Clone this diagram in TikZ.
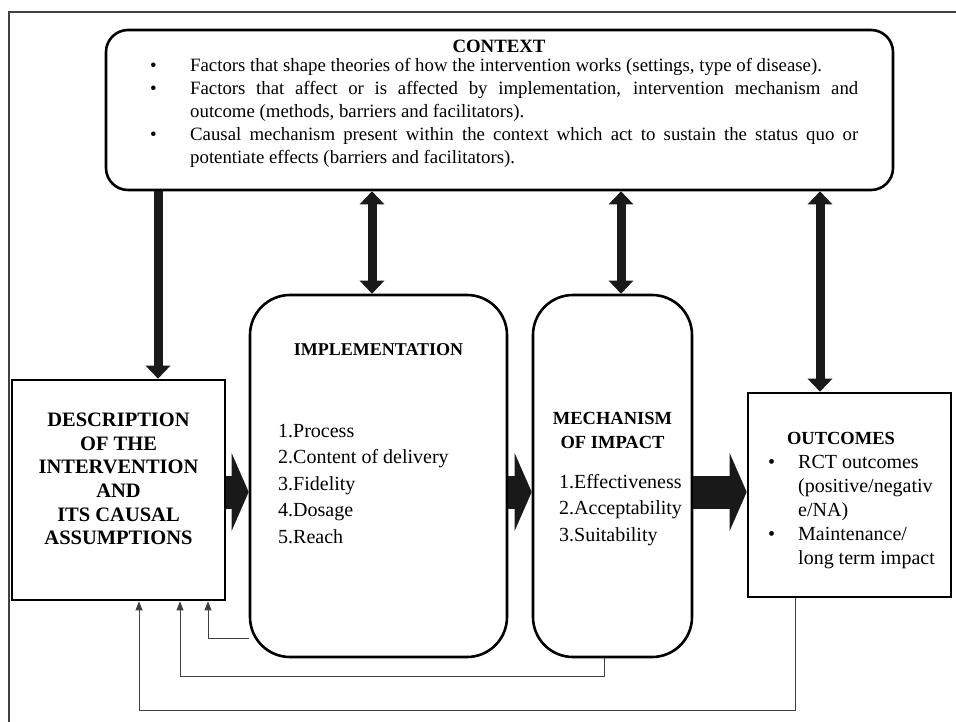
\documentclass[tikz,border=0pt]{standalone}
\usepackage{fontspec}
\setmainfont{Liberation Serif}
\usetikzlibrary{arrows.meta,calc,backgrounds}
\tikzset{
  sqbox/.style={draw, line width=2.6pt, fill=white, inner sep=0pt},
  rndbox/.style={sqbox, rounded corners=40pt},
  ctxbox/.style={sqbox, rounded corners=22pt},
  txt/.style={inner sep=0pt, font=\fontsize{18.5}{23.5}\selectfont},
  ctxtxt/.style={inner sep=0pt, font=\fontsize{18.8}{23}\selectfont},
  bigarrow/.style={line width=33pt, -{Triangle[width=77pt,length=17pt]}, draw=black!90},
  dblarrow/.style={line width=9pt, {Triangle[width=24pt,length=13pt]}-{Triangle[width=24pt,length=13pt]}, draw=black!90},
  downarrow/.style={line width=9pt, -{Triangle[width=24pt,length=13pt]}, draw=black!90},
  fback/.style={line width=0.8pt, draw=black!75, -{Triangle[width=7pt,length=9pt]}},
  frameline/.style={line width=1.1pt, draw=black!75}
}
\begin{document}
\begin{tikzpicture}[x=1pt,y=-1pt]
\useasboundingbox (0,0) rectangle (956,721);
% outer frame
\coordinate (fr1) at (9,730);
\coordinate (fr2) at (9,12);
\coordinate (fr3) at (960,12);
\draw[frameline] (fr1) -- (fr2) -- (fr3);

% boxes
\node[ctxbox, minimum width=787pt, minimum height=160pt] (ctx) at (499.5,110) {};
\node[sqbox, minimum width=213pt, minimum height=220pt] (desc) at (118.5,490) {};
\node[rndbox, minimum width=257pt, minimum height=362pt] (impl) at (378.5,476) {};
\node[rndbox, minimum width=159pt, minimum height=362pt] (mech) at (612.5,476) {};
\node[sqbox, minimum width=203pt, minimum height=204pt] (out) at (849.5,495) {};

% context text
\node[ctxtxt, font=\fontsize{18.8}{23}\selectfont\bfseries] (ctitle) at (499,46) {CONTEXT};
\node[ctxtxt, anchor=north west, text width=708pt, align=justify] (cbody) at (150,58) {%
\noindent\hangindent=40pt\hangafter=1\makebox[40pt][l]{\textbullet}Factors that shape theories of how the intervention works (settings, type of disease).\par
\noindent\hangindent=40pt\hangafter=1\makebox[40pt][l]{\textbullet}Factors that affect or is affected by implementation, intervention mechanism and\linebreak outcome (methods, barriers and facilitators).\par
\noindent\hangindent=40pt\hangafter=1\makebox[40pt][l]{\textbullet}Causal mechanism present within the context which act to sustain the status quo or\linebreak potentiate effects (barriers and facilitators).\par};

% description
\node[txt, font=\fontsize{20.5}{23.6}\selectfont\bfseries, align=center] (dtext) at (118.5,479) {DESCRIPTION\\OF THE\\INTERVENTION\\AND\\ITS CAUSAL\\ASSUMPTIONS};

% implementation
\node[txt, font=\fontsize{18}{23.6}\selectfont\bfseries] (ititle) at (378.5,350) {IMPLEMENTATION};
\node[txt, anchor=north west, align=left, font=\fontsize{20}{26.5}\selectfont] (ilist) at (278,424) {1.Process\\2.Content of delivery\\3.Fidelity\\4.Dosage\\5.Reach};

% mechanism
\node[txt, font=\fontsize{18.5}{24}\selectfont\bfseries, align=center] (mtitle) at (612.5,430) {MECHANISM\\OF IMPACT};
\node[txt, anchor=north west, align=left, font=\fontsize{20}{26.5}\selectfont] (mlist) at (559,474) {1.Effectiveness\\2.Acceptability\\3.Suitability};

% outcomes
\node[txt, font=\fontsize{18.5}{24}\selectfont\bfseries] (otitle) at (841,438) {OUTCOMES};
\node[txt, anchor=north west, align=left, font=\fontsize{20}{24}\selectfont] (olist) at (768,455) {\makebox[30pt][l]{\textbullet}RCT outcomes\\\hspace*{30pt}(positive/negativ\\\hspace*{30pt}e/NA)\\\makebox[30pt][l]{\textbullet}Maintenance/\\\hspace*{30pt}long term impact};

% thick forward arrows
\coordinate (ya) at (0,492);
\draw[bigarrow] (desc.east |- ya) -- (impl.west |- ya);
\draw[bigarrow] (impl.east |- ya) -- (mech.west |- ya);
\draw[bigarrow] (mech.east |- ya) -- (out.west |- ya);

% vertical arrows
\coordinate (a0) at (158,0);
\coordinate (a1) at (372,0);
\coordinate (a2) at (621,0);
\coordinate (a3) at (820,0);
\draw[downarrow] (ctx.south -| a0) -- (desc.north -| a0);
\draw[dblarrow] (ctx.south -| a1) -- (impl.north -| a1);
\draw[dblarrow] (ctx.south -| a2) -- (mech.north -| a2);
\draw[dblarrow] (ctx.south -| a3) -- (out.north -| a3);

% feedback lines
\coordinate (f1) at (208,638);
\coordinate (f2) at (180,676);
\coordinate (f2b) at (604,676);
\coordinate (f3) at (139,710);
\coordinate (f3b) at (795,710);
\begin{scope}[on background layer]
\draw[fback] (impl.west |- f1) -- (f1) -- (desc.south -| f1);
\draw[fback] (mech.south -| f2b) -- (f2b) -- (f2) -- (desc.south -| f2);
\draw[fback] (out.south -| f3b) -- (f3b) -- (f3) -- (desc.south -| f3);
\end{scope}
\end{tikzpicture}
\end{document}
